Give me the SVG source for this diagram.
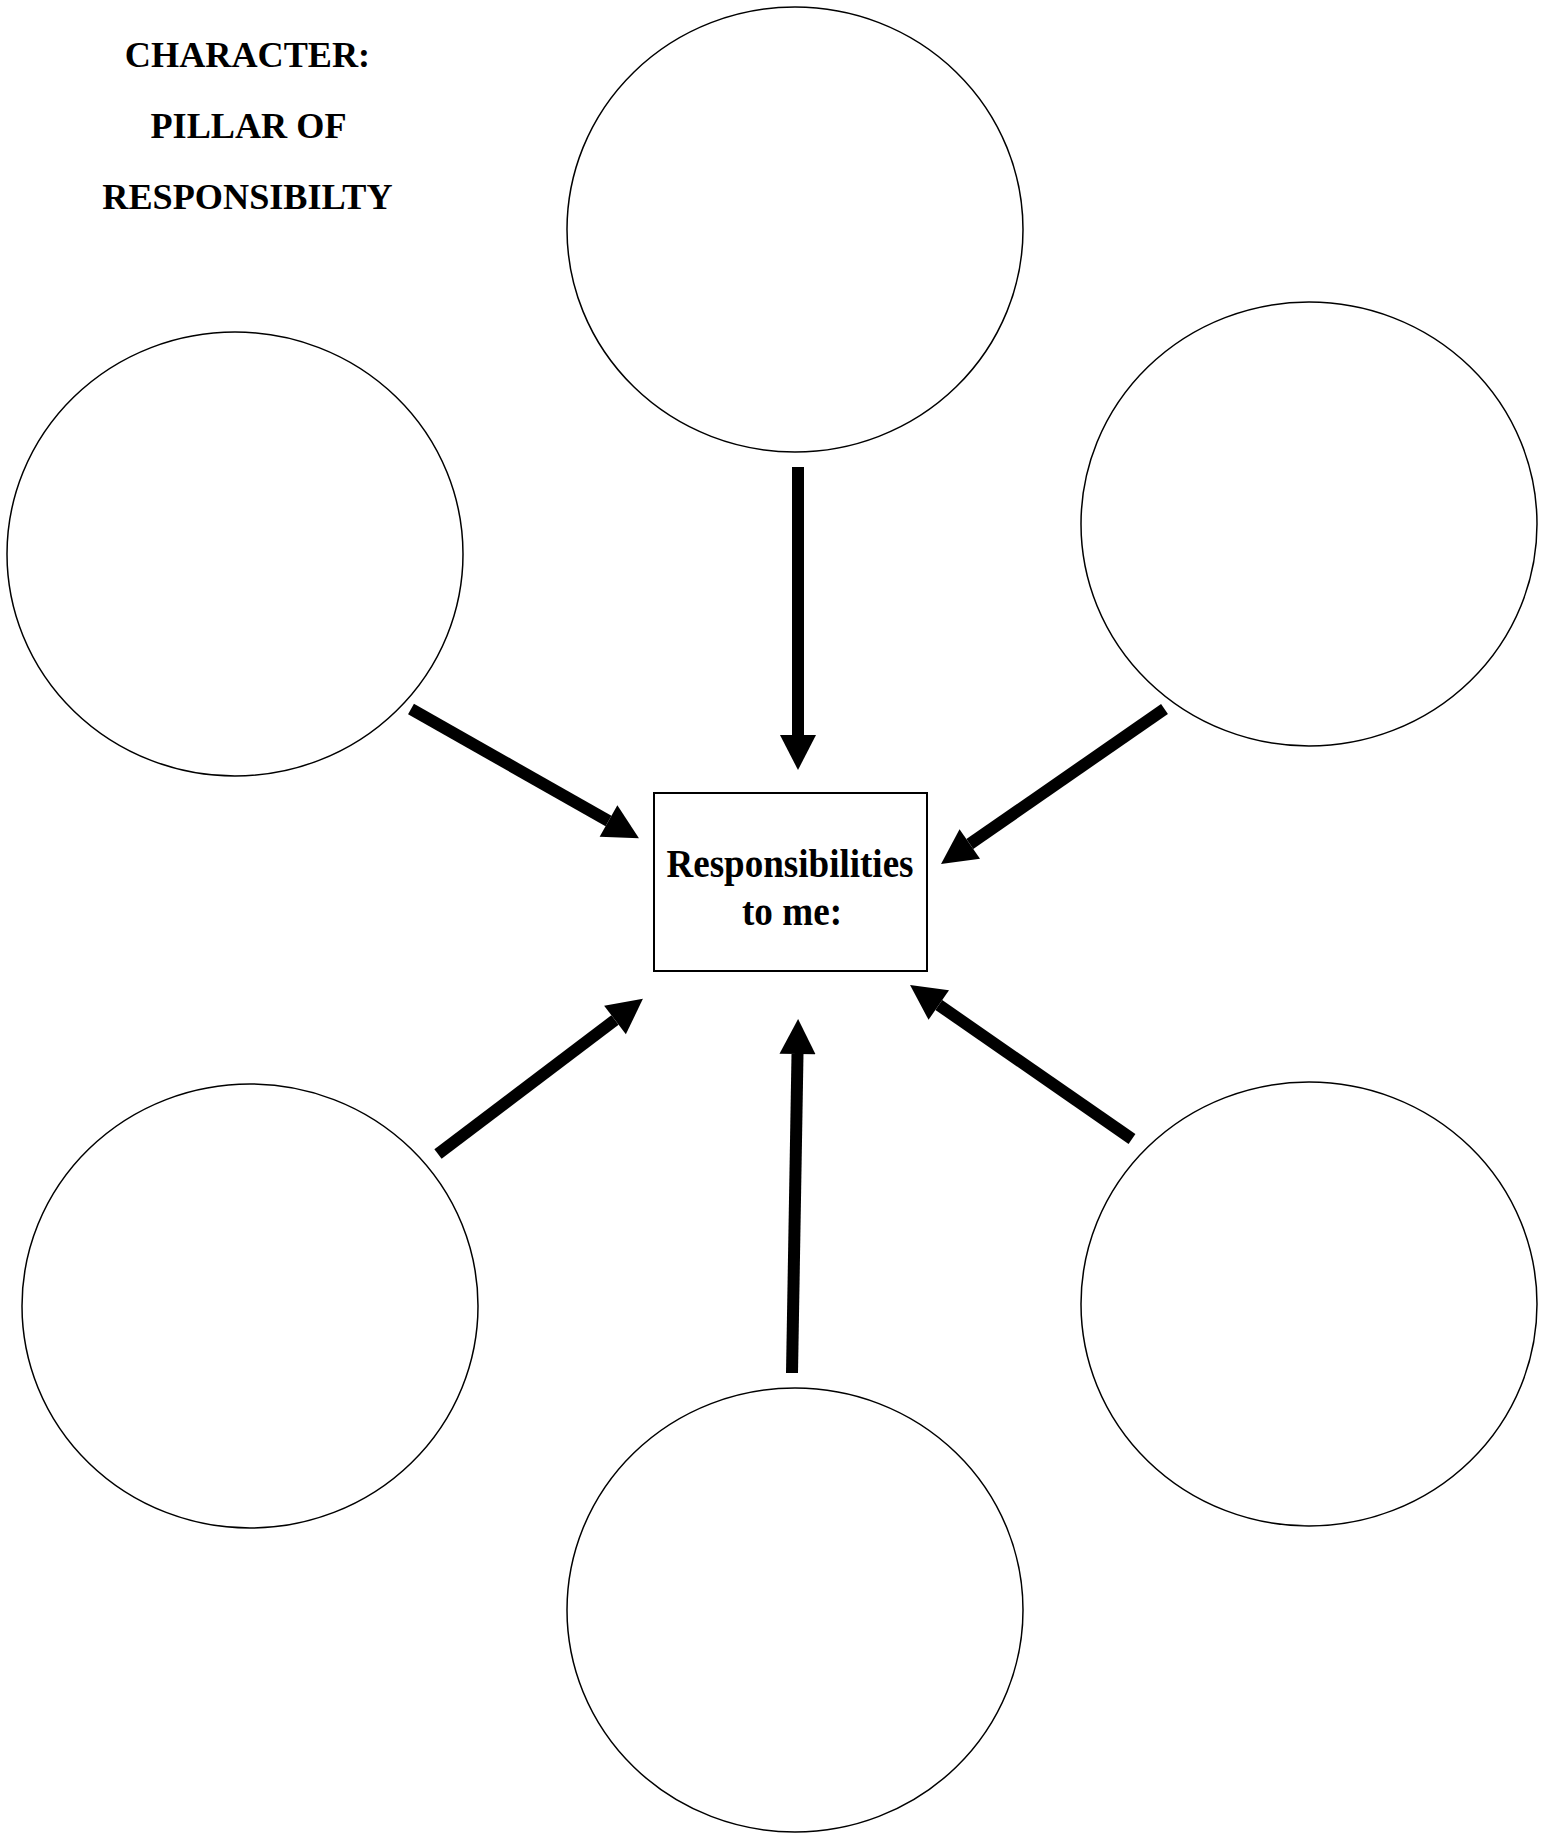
<svg xmlns="http://www.w3.org/2000/svg" width="1554" height="1834" viewBox="0 0 1554 1834">
<style>
.node ellipse{fill:#fff;stroke:#000;stroke-width:1.5}
.box{fill:#fff;stroke:#000;stroke-width:2}
.title{font-family:"Liberation Serif","Times New Roman",serif;font-weight:bold;font-size:36.2px;fill:#000;text-anchor:middle}
.lbl{font-family:"Liberation Serif","Times New Roman",serif;font-weight:bold;font-size:40px;fill:#000;text-anchor:middle}
.conn line{stroke:#000;stroke-width:12;stroke-linecap:butt;marker-end:url(#ah)}
</style>
<defs>
<marker id="ah" markerUnits="userSpaceOnUse" markerWidth="36" markerHeight="36" viewBox="0 0 35 36" refX="0" refY="18" orient="auto">
<path d="M0,0 L35,18 L0,36 Z" fill="#000"/>
</marker>
</defs>
<rect width="1554" height="1834" fill="#fff"/>
<g id="title">
<text class="title" x="247.5" y="67">CHARACTER:</text>
<text class="title" x="248.5" y="138">PILLAR OF</text>
<text class="title" x="247.5" y="209">RESPONSIBILTY</text>
</g>
<g id="node-top" class="node"><ellipse cx="795" cy="229.5" rx="228" ry="222.5"/></g>
<g id="node-upper-left" class="node"><ellipse cx="235" cy="554" rx="228" ry="222"/></g>
<g id="node-upper-right" class="node"><ellipse cx="1309" cy="524" rx="228" ry="222"/></g>
<g id="node-lower-left" class="node"><ellipse cx="250" cy="1306" rx="228" ry="222"/></g>
<g id="node-lower-right" class="node"><ellipse cx="1309" cy="1304" rx="228" ry="222"/></g>
<g id="node-bottom" class="node"><ellipse cx="795" cy="1610" rx="228" ry="222"/></g>
<g id="node-center">
<rect class="box" x="654" y="793" width="273" height="178"/>
<text class="lbl" x="790" y="877" textLength="247" lengthAdjust="spacingAndGlyphs">Responsibilities</text>
<text class="lbl" x="792" y="925" textLength="100" lengthAdjust="spacingAndGlyphs">to me:</text>
</g>
<g id="connectors" class="conn">
<line x1="798" y1="467" x2="798" y2="735"/>
<line x1="792" y1="1373" x2="797.5" y2="1054"/>
<line x1="438" y1="1154" x2="615" y2="1020"/>
<line x1="1132" y1="1139" x2="938.8" y2="1005"/>
<line x1="411" y1="709" x2="608.5" y2="821"/>
<line x1="1164.5" y1="709" x2="969.8" y2="844"/>
</g>
</svg>
